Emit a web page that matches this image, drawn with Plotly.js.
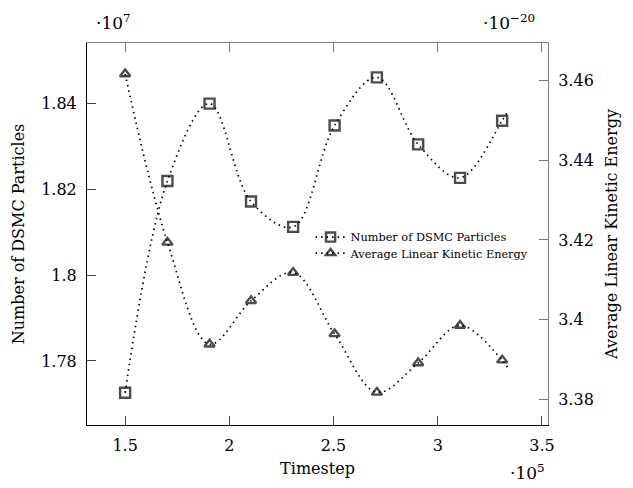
<!DOCTYPE html>
<html>
<head>
<meta charset="utf-8">
<script src="https://cdn.plot.ly/plotly-3.0.1.min.js"></script>
<style>html,body{margin:0;padding:0;background:#fff}#chart{width:633px;height:488px}</style>
</head>
<body>
<div id="chart"></div>
<script>
// Timestep (x 1e5); last entry is the curve tail without a mark
const timestep = [1.5, 1.703, 1.905, 2.104, 2.306, 2.505, 2.708, 2.906, 3.107, 3.309, 3.34];
// Number of DSMC particles (x 1e7)
const particles = [1.7726, 1.8219, 1.8399, 1.8171, 1.8112, 1.8348, 1.8460, 1.8304, 1.8226, 1.8359, 1.8384];
// Average linear kinetic energy (x 1e-20)
const energy = [3.4617, 3.4194, 3.3938, 3.4047, 3.4118, 3.3964, 3.3817, 3.3891, 3.3985, 3.3898, 3.3875];
const markSizes = [10, 10, 10, 10, 10, 10, 10, 10, 10, 10, 0];
const triSizes = [9, 9, 9, 9, 9, 9, 9, 9, 9, 9, 0];

const xTicks = [1.5, 2, 2.5, 3, 3.5];
const xTickText = ['1.5', '2', '2.5', '3', '3.5'];
const yLeftTicks = [1.78, 1.8, 1.82, 1.84];
const yLeftText = ['1.78', '1.8', '1.82', '1.84'];
const yRightTicks = [3.38, 3.4, 3.42, 3.44, 3.46];
const yRightText = ['3.38', '3.4', '3.42', '3.44', '3.46'];

const FONT = 'DejaVu Serif, Liberation Serif, serif';
const dotted = '1.5px,4px';

const traces = [
  {
    x: timestep, y: particles, xaxis: 'x', yaxis: 'y',
    name: 'Number of DSMC Particles', legend: 'legend',
    mode: 'lines+markers',
    line: {color: '#000', width: 1.7, dash: dotted, shape: 'spline', smoothing: 1},
    marker: {symbol: 'square-open', size: markSizes, color: '#000', line: {width: 2.4, color: '#000'}}
  },
  {
    x: timestep, y: energy, xaxis: 'x2', yaxis: 'y2',
    name: 'Average Linear Kinetic Energy', legend: 'legend2',
    mode: 'lines+markers',
    line: {color: '#000', width: 1.7, dash: dotted, shape: 'spline', smoothing: 1},
    marker: {symbol: 'triangle-up-open', size: triSizes, color: '#000', line: {width: 2.4, color: '#000'}}
  }
];

const xRange = [1.317, 3.529];
const legendBase = {
  xanchor: 'left', yanchor: 'top',
  bgcolor: 'rgba(255,255,255,0)', borderwidth: 0,
  font: {family: FONT, size: 11.3, color: '#000'}
};

const layout = {
  width: 633, height: 488,
  margin: {l: 87, r: 85, t: 43, b: 63, pad: 0},
  paper_bgcolor: '#fff', plot_bgcolor: '#fff',
  font: {family: FONT, size: 16, color: '#000'},
  showlegend: true,
  legend: Object.assign({x: 0.485, y: 0.530}, legendBase),
  legend2: Object.assign({x: 0.485, y: 0.488}, legendBase),
  xaxis: {
    range: xRange, tickvals: xTicks, ticktext: xTickText,
    ticks: 'inside', ticklen: 9, tickwidth: 1, tickcolor: '#444',
    showline: true, linecolor: '#000', linewidth: 1,
    showgrid: false, zeroline: false,
    tickfont: {family: FONT, size: 16},
    ticklabelstandoff: 6,
    title: {text: 'Timestep', font: {family: FONT, size: 16}, standoff: 8}
  },
  xaxis2: {
    range: xRange, overlaying: 'x', side: 'top', anchor: 'y2',
    tickvals: xTicks, showticklabels: false,
    ticks: 'inside', ticklen: 9, tickwidth: 1, tickcolor: '#777',
    showline: true, linecolor: '#808080', linewidth: 1,
    showgrid: false, zeroline: false
  },
  yaxis: {
    range: [1.7651, 1.854], tickvals: yLeftTicks, ticktext: yLeftText,
    ticks: 'inside', ticklen: 9, tickwidth: 1, tickcolor: '#444',
    showline: true, linecolor: '#000', linewidth: 1,
    showgrid: false, zeroline: false,
    tickfont: {family: FONT, size: 16},
    ticklabelstandoff: 6,
    title: {text: 'Number of DSMC Particles', font: {family: FONT, size: 16}, standoff: 12}
  },
  yaxis2: {
    range: [3.3735, 3.4695], tickvals: yRightTicks, ticktext: yRightText,
    overlaying: 'y', side: 'right', anchor: 'x2',
    ticks: 'inside', ticklen: 9, tickwidth: 1, tickcolor: '#777',
    showline: true, linecolor: '#808080', linewidth: 1,
    showgrid: false, zeroline: false,
    tickfont: {family: FONT, size: 16},
    ticklabelstandoff: 6,
    title: {text: 'Average Linear Kinetic Energy', font: {family: FONT, size: 16}, standoff: 12}
  },
  annotations: [
    {xref: 'paper', yref: 'paper', x: 0.058, y: 1.055, text: '·10<sup>7</sup>', showarrow: false, font: {family: FONT, size: 17}, xanchor: 'center', yanchor: 'middle'},
    {xref: 'paper', yref: 'paper', x: 0.915, y: 1.055, text: '·10<sup>−20</sup>', showarrow: false, font: {family: FONT, size: 17}, xanchor: 'center', yanchor: 'middle'},
    {xref: 'paper', yref: 'paper', x: 0.955, y: -0.122, text: '·10<sup>5</sup>', showarrow: false, font: {family: FONT, size: 17}, xanchor: 'center', yanchor: 'middle'}
  ]
};

Plotly.newPlot('chart', traces, layout, {displayModeBar: false, staticPlot: true});
</script>
</body>
</html>
